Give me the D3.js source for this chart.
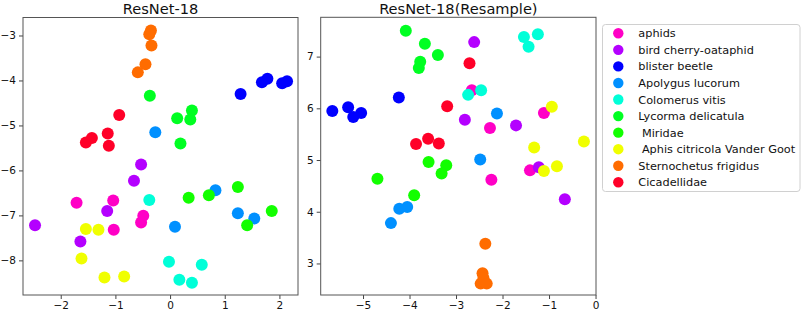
<!DOCTYPE html>
<html>
<head>
<meta charset="utf-8">
<script src="https://cdn.jsdelivr.net/npm/d3@7"></script>
<style>
  body { margin: 0; background: #fff; }
  svg { font-family: "DejaVu Sans", sans-serif; }
  .legend text { white-space: pre; }
</style>
</head>
<body>
<div id="chart"></div>
<script>
// Classes, in plotting / legend order
const classes = ["aphids", "bird cherry-oataphid", "blister beetle", "Apolygus lucorum",
  "Colomerus vitis", "Lycorma delicatula", " Miridae", " Aphis citricola Vander Goot",
  "Sternochetus frigidus", "Cicadellidae"];
const colors = ["#ff00c6", "#b400ff", "#0000ff", "#0090ff", "#00ffd8",
  "#00ff22", "#12ff00", "#f0ff00", "#ff6c00", "#ff0028"];

// ResNet-18 embedding, [x, y] per class
const left = [
  [[-1.71, -6.72], [-1.04, -6.67], [-1.03, -7.32], [-0.49, -7.01], [-0.53, -7.16]],
  [[-0.53, -5.87], [-0.66, -6.23], [-1.15, -6.90], [-2.47, -7.22], [-1.64, -7.58]],
  [[1.29, -4.30], [1.68, -4.04], [1.78, -3.96], [2.05, -4.06], [2.14, -4.02]],
  [[-0.27, -5.15], [0.83, -6.44], [1.24, -6.95], [1.54, -7.07], [0.09, -7.25]],
  [[-0.38, -6.66], [-0.02, -8.03], [0.17, -8.43], [0.40, -8.50], [0.58, -8.10]],
  [[-0.37, -4.34], [0.13, -4.84], [0.40, -4.67], [0.37, -4.87], [0.19, -5.40]],
  [[0.34, -6.61], [0.71, -6.55], [1.24, -6.37], [1.86, -6.90], [1.41, -7.22]],
  [[-1.54, -7.30], [-1.31, -7.32], [-1.62, -7.96], [-1.20, -8.38], [-0.84, -8.36]],
  [[-0.35, -2.89], [-0.38, -2.97], [-0.34, -3.22], [-0.45, -3.64], [-0.59, -3.82]],
  [[-0.93, -4.77], [-1.14, -5.18], [-1.12, -5.45], [-1.54, -5.38], [-1.43, -5.28]]
];

// ResNet-18 (Resample) embedding
const right = [
  [[-2.66, 6.35], [-2.27, 5.62], [-1.11, 5.91], [-2.24, 4.62], [-1.41, 4.80]],
  [[-2.61, 7.28], [-2.81, 5.78], [-1.71, 5.67], [-1.22, 4.86], [-0.66, 4.24]],
  [[-5.66, 5.95], [-5.32, 6.02], [-5.21, 5.83], [-5.04, 5.91], [-4.23, 6.21]],
  [[-2.12, 5.90], [-2.48, 5.01], [-4.22, 4.06], [-4.05, 4.09], [-4.40, 3.78]],
  [[-1.54, 7.38], [-1.44, 7.19], [-1.24, 7.43], [-2.74, 6.26], [-2.46, 6.35]],
  [[-4.08, 7.50], [-3.67, 7.25], [-3.39, 7.03], [-3.77, 6.90], [-3.80, 6.78]],
  [[-3.59, 4.96], [-3.21, 4.90], [-3.31, 4.74], [-4.69, 4.64], [-3.90, 4.32]],
  [[-0.94, 6.03], [-1.32, 5.24], [-0.25, 5.36], [-1.11, 4.79], [-0.83, 4.88]],
  [[-2.37, 3.38], [-2.43, 2.81], [-2.41, 2.72], [-2.47, 2.61], [-2.34, 2.61]],
  [[-2.71, 6.87], [-3.19, 6.04], [-3.86, 5.31], [-3.60, 5.41], [-3.37, 5.32]]
];

const leftXTicks = [-2, -1, 0, 1, 2];
const leftYTicks = [-8, -7, -6, -5, -4, -3];
const rightXTicks = [-5, -4, -3, -2, -1, 0];
const rightYTicks = [3, 4, 5, 6, 7];

const W = 803, H = 311;
const svg = d3.select("#chart").append("svg")
  .attr("width", W).attr("height", H);

const fmt = d3.format("d");

function panel(opts) {
  const x = d3.scaleLinear().domain(opts.xDomain).range(opts.xRange);
  const y = d3.scaleLinear().domain(opts.yDomain).range(opts.yRange);
  const g = svg.append("g");

  // Points
  opts.data.forEach((pts, i) => {
    g.selectAll(null).data(pts).enter()
      .append("circle")
      .attr("cx", d => x(d[0]))
      .attr("cy", d => y(d[1]))
      .attr("r", 6)
      .attr("fill", colors[i]);
  });

  // Axes
  const xAxis = g.append("g")
    .attr("transform", `translate(0,${opts.yRange[0]})`)
    .call(d3.axisBottom(x).tickValues(opts.xTicks).tickFormat(fmt)
      .tickSize(4).tickPadding(2.5).tickSizeOuter(0));
  const yAxis = g.append("g")
    .attr("transform", `translate(${opts.xRange[0]},0)`)
    .call(d3.axisLeft(y).tickValues(opts.yTicks).tickFormat(fmt)
      .tickSize(4).tickPadding(3).tickSizeOuter(0));
  [xAxis, yAxis].forEach(a => {
    a.select(".domain").remove();
    a.selectAll("text").attr("font-size", "10.5px").attr("fill", "#111")
      .attr("font-family", "DejaVu Sans, sans-serif");
    a.selectAll("line").attr("stroke", "#444");
  });

  // Frame
  g.append("rect")
    .attr("x", opts.xRange[0]).attr("y", opts.yRange[1])
    .attr("width", opts.xRange[1] - opts.xRange[0])
    .attr("height", opts.yRange[0] - opts.yRange[1])
    .attr("fill", "none").attr("stroke", "#555").attr("stroke-width", 1);

  // Title
  g.append("text")
    .attr("x", (opts.xRange[0] + opts.xRange[1]) / 2)
    .attr("y", 13.5)
    .attr("text-anchor", "middle")
    .attr("font-size", "14.6px")
    .attr("fill", "#111")
    .text(opts.title);
}

panel({
  title: "ResNet-18", data: left,
  xDomain: [-2.69, 2.34], xRange: [23, 298],
  yDomain: [-8.77, -2.60], yRange: [295, 17.5],
  xTicks: leftXTicks, yTicks: leftYTicks
});

panel({
  title: "ResNet-18(Resample)", data: right,
  xDomain: [-5.91, 0.01], xRange: [320.7, 596],
  yDomain: [2.39, 7.76], yRange: [295, 17.3],
  xTicks: rightXTicks, yTicks: rightYTicks
});

// Legend
const legend = svg.append("g").attr("class", "legend");
legend.append("rect")
  .attr("x", 602.5).attr("y", 24.5).attr("width", 197.5).attr("height", 167)
  .attr("rx", 3).attr("fill", "#fff").attr("stroke", "#d0d0d0");
const rowY = d3.scalePoint().domain(classes).range([33.3, 182.3]);
const items = legend.selectAll(".item").data(classes).enter()
  .append("g").attr("class", "item")
  .attr("transform", d => `translate(0,${rowY(d)})`);
items.append("circle").attr("cx", 618.3).attr("cy", 0).attr("r", 5.2)
  .attr("fill", (d, i) => colors[i]);
items.append("text").attr("x", 638.3).attr("y", 0).attr("dy", "0.36em")
  .attr("font-size", "11.3px").attr("fill", "#111")
  .text(d => d);
</script>
</body>
</html>
